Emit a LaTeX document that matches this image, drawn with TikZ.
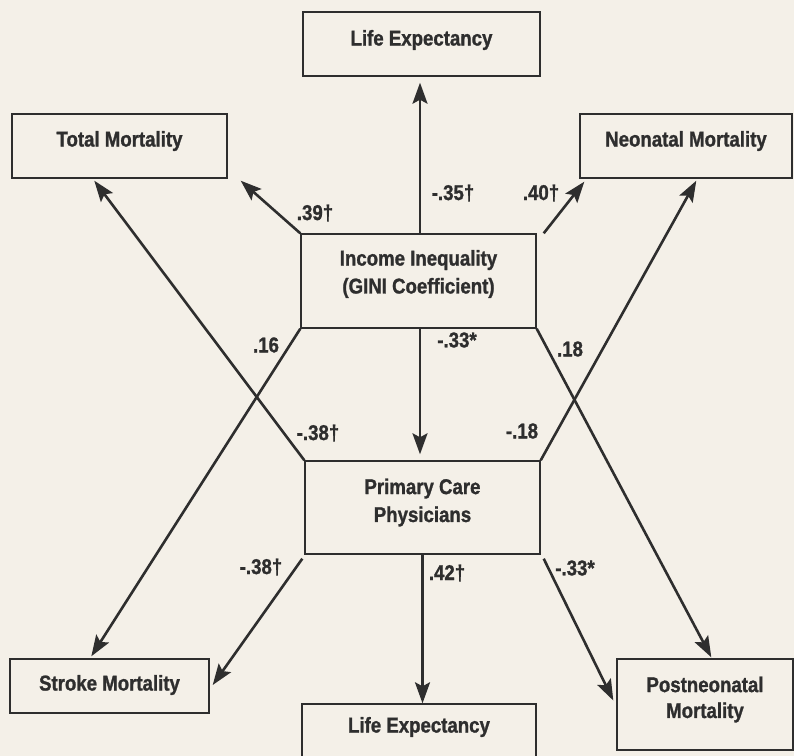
\documentclass[tikz,border=0pt]{standalone}
\usepackage{fontspec}
\setmainfont{Liberation Sans}[FakeStretch=0.87,BoldFeatures={FakeBold=1.2}]
\usetikzlibrary{arrows.meta,calc}
\definecolor{paper}{HTML}{F4F0E8}
\definecolor{ink}{HTML}{2E2E2E}
\begin{document}
\begin{tikzpicture}[x=1bp,y=-1bp,
  box/.style={draw=ink,line width=1.4bp,inner sep=0pt},
  txt/.style={inner sep=0pt,align=center,text=ink,
    font=\fontsize{21.5}{28}\selectfont\bfseries},
  arr/.style={draw=ink,line width=2.6bp,-{Stealth[length=21bp,width=15bp,inset=4bp]}},
  lbl/.style={inner sep=0pt,text=ink,font=\fontsize{21.5}{24}\selectfont\bfseries}]
\useasboundingbox (0,0) rectangle (794,756);
\clip (0,0) rectangle (794,756);
\fill[paper] (0,0) rectangle (794,756);

% boxes
\node[box,minimum width=237bp,minimum height=64bp] (lifetop) at (421.5,44) {};
\node[box,minimum width=215bp,minimum height=64bp] (total) at (119.5,146) {};
\node[box,minimum width=212bp,minimum height=64bp] (neonatal) at (686,146) {};
\node[box,minimum width=235bp,minimum height=94bp] (income) at (418.5,281) {};
\node[box,minimum width=235bp,minimum height=93bp] (primary) at (422.5,507.5) {};
\node[box,minimum width=199bp,minimum height=54bp] (stroke) at (109.5,686) {};
\node[box,minimum width=234bp,minimum height=64bp] (lifebot) at (419,736) {};
\node[box,minimum width=176bp,minimum height=91bp] (postneo) at (705,704.5) {};

% box texts
\node[txt] (tlifetop) at ($(lifetop.center)+(0,-4)$) {Life Expectancy};
\node[txt] (ttotal) at ($(total.center)+(0,-5)$) {Total Mortality};
\node[txt] (tneonatal) at ($(neonatal.center)+(0,-5)$) {Neonatal Mortality};
\node[txt] (tincome) at ($(income.center)+(0,-7)$) {Income Inequality\\(GINI Coefficient)};
\node[txt] (tprimary) at ($(primary.center)+(0,-5)$) {Primary Care\\Physicians};
\node[txt] (tstroke) at ($(stroke.center)+(0,-1)$) {Stroke Mortality};
\node[txt] (tlifebot) at ($(lifebot.center)+(0,-9)$) {Life Expectancy};
\node[txt,font=\fontsize{21.5}{26}\selectfont\bfseries] (tpostneo) at ($(postneo.center)+(0,-5)$) {Postneonatal\\Mortality};

% connector end points
\coordinate (incN) at ($(income.north)+(1.5,0)$);
\coordinate (ltS) at ($(incN |- lifetop.south)+(0,6)$);
\coordinate (incNEo) at ($(income.north east)+(7,0)$);
\coordinate (neoSW) at ($(neonatal.south west)+(5,3)$);
\coordinate (totSE) at ($(total.south east)+(13,2)$);
\coordinate (totS) at ($(total.south west)+(83,2)$);
\coordinate (strN) at ($(stroke.north west)+(82,-2)$);
\coordinate (strE) at ($(stroke.east)+(3,-1)$);
\coordinate (incS) at ($(income.south)+(1.5,0)$);
\coordinate (priN) at ($(incS |- primary.north)+(0,-6)$);
\coordinate (priSWo) at ($(primary.south west)+(-2,4)$);
\coordinate (priSEo) at ($(primary.south east)+(3,4)$);
\coordinate (priS) at (primary.south);
\coordinate (lbN) at (priS |- lifebot.north);
\coordinate (pnN) at ($(postneo.north west)+(95,-1)$);
\coordinate (pnW) at ($(postneo.west)+(-3,-4)$);
\coordinate (neoS) at ($(neonatal.south west)+(117,2)$);

% connectors
\draw[arr] (incN) -- (ltS);
\draw[arr] (incNEo) -- (neoSW);
\draw[arr] (income.north west) -- (totSE);
\draw[arr] (income.south west) -- (strN);
\draw[arr] (primary.north west) -- (totS);
\draw[arr] (priSWo) -- (strE);
\draw[arr] (incS) -- (priN);
\draw[arr] (income.south east) -- (pnN);
\draw[arr] (primary.north east) -- (neoS);
\draw[arr] (priS) -- (lbN);
\draw[arr] (priSEo) -- (pnW);

% labels
\node[lbl] (l1) at (453,193) {-.35†};
\node[lbl] (l2) at (541,193) {.40†};
\node[lbl] (l3) at (315,213) {.39†};
\node[lbl] (l4) at (266,345) {.16};
\node[lbl] (l5) at (318,433) {-.38†};
\node[lbl] (l6) at (261,567) {-.38†};
\node[lbl] (l7) at (457,340) {-.33*};
\node[lbl] (l8) at (570,349) {.18};
\node[lbl] (l9) at (522,431) {-.18};
\node[lbl] (l10) at (447,573) {.42†};
\node[lbl] (l11) at (575,568) {-.33*};
\end{tikzpicture}
\end{document}
